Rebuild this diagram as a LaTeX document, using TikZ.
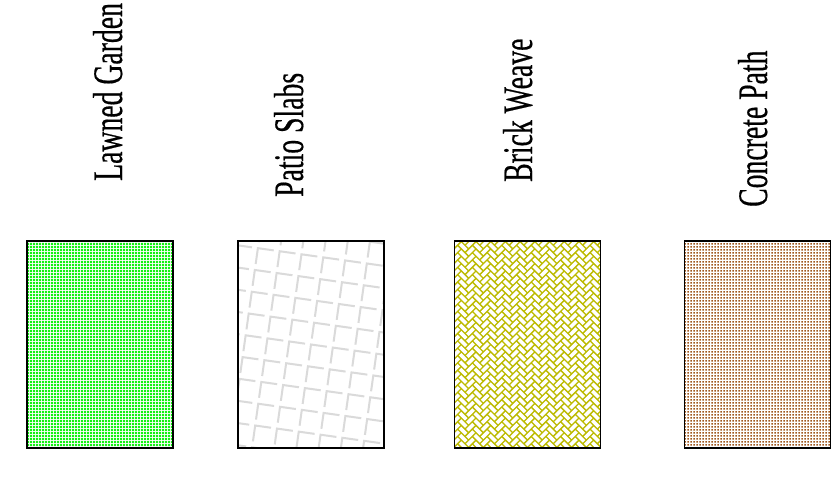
\documentclass[tikz,border=0pt]{standalone}
\usepackage{fontspec}
\usepackage{tikz}
\usetikzlibrary{
  patterns,
  positioning,
  backgrounds
}
\newfontfamily\labelfont[FakeStretch=0.66, FakeBold=0.4]{Liberation Serif}
\definecolor{lawngreen}{RGB}{20,240,20}
\definecolor{slabgrey}{RGB}{218,218,218}
\definecolor{brickolive}{RGB}{188,186,0}
\definecolor{concretebrown}{RGB}{160,88,30}
\pgfdeclarepatternformonly{fine squares}
  {\pgfqpoint{0pt}{0pt}}{\pgfqpoint{3pt}{3pt}}{\pgfqpoint{3pt}{3pt}}
  {\pgfpathrectangle{\pgfqpoint{0.4pt}{0.4pt}}{\pgfqpoint{2.2pt}{2.2pt}}\pgfusepath{fill}}
\pgfdeclarepatternformonly{dense squares}
  {\pgfqpoint{0pt}{0pt}}{\pgfqpoint{3pt}{3pt}}{\pgfqpoint{3pt}{3pt}}
  {\pgfpathrectangle{\pgfqpoint{0.2pt}{0.2pt}}{\pgfqpoint{2.6pt}{2.6pt}}\pgfusepath{fill}}
\tikzset{
  swatch/.style={
    draw=black, line width=1.4pt,
    minimum width=146pt, minimum height=207pt,
    inner sep=0pt
  },
  surface label/.style={
    rotate=90, anchor=base west, inner sep=0pt,
    font=\labelfont\fontsize{42}{42}\selectfont
  },
  slab line/.style={
    draw=slabgrey, line width=2pt
  },
}

\begin{document}
\begin{tikzpicture}[x=1pt, y=1pt]

  \useasboundingbox (0,0) rectangle (833,-479);

  % Labels
  \node[surface label] (lawnlabel) at (122,-181) {Lawned Garden};
  \node[surface label] (patiolabel) at (303,-197) {Patio Slabs};
  \node[surface label] (bricklabel) at (532,-182) {Brick Weave};
  \node[surface label] (concretelabel) at (767,-207) {Concrete Path};

  % Swatches
  \node[swatch, pattern=dense squares, pattern color=lawngreen]
    (lawn) at (100,-344.5) {};
  \node[swatch] (patio) at (311,-344.5) {};
  \node[swatch] (brick) at (527.5,-344.5) {};
  \node[swatch, pattern=fine squares, pattern color=concretebrown]
    (concrete) at (757.5,-344.5) {};

  \begin{scope}[on background layer]
    % Canvas
    \fill[white] (0,0) rectangle (833,-479);

    % Patio Slabs
    \begin{scope}
      \clip (patio.south west) rectangle (patio.north east);
      \begin{scope}[shift={(patio.center)}, rotate=-8]
        \foreach \i in {-6,...,6}
          \foreach \j in {-7,...,7}
            \draw[slab line] (22*\i+16,22*\j) -- (22*\i,22*\j) -- (22*\i,22*\j-16);
      \end{scope}
    \end{scope}

    % Brick Weave
    \begin{scope}
      \clip (brick.south west) rectangle (brick.north east);
      \fill[brickolive] (brick.south west) rectangle (brick.north east);
      \begin{scope}[shift={(brick.center)}, rotate=45, scale=5.2]
        \foreach \k in {-26,...,26}
          \foreach \n in {-13,...,13}
            \fill[white, shift={(4*\n+\k,\k)}]
              (0.16,0.16) rectangle (1.84,0.84)
              (2.16,-0.84) rectangle (2.84,0.84);
      \end{scope}
    \end{scope}
  \end{scope}

\end{tikzpicture}
\end{document}
